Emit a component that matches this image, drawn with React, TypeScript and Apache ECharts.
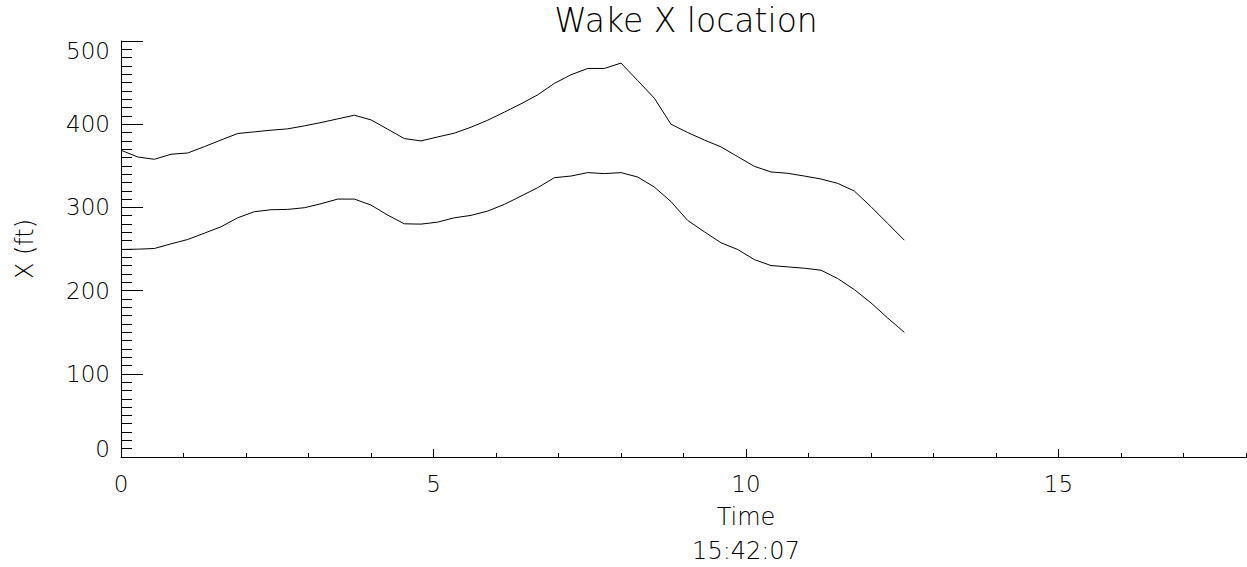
import React, { useEffect, useRef } from "react";
import * as echarts from "echarts";

const titleText = "Wake X location";
const xAxisName = "Time\n15:42:07";
const yAxisName = "X (ft)";

const times = [
  0, 0.267, 0.533, 0.8, 1.067, 1.333, 1.6, 1.867, 2.133, 2.4, 2.667, 2.933,
  3.2, 3.467, 3.733, 4.0, 4.267, 4.533, 4.8, 5.067, 5.333, 5.6, 5.867, 6.133,
  6.4, 6.667, 6.933, 7.2, 7.467, 7.733, 8.0, 8.267, 8.533, 8.8, 9.067, 9.333,
  9.6, 9.867, 10.133, 10.4, 10.667, 10.933, 11.2, 11.467, 11.733, 12.0, 12.267, 12.533,
];

const upperX = [
  368.7, 360.6, 357.8, 363.9, 365.4, 373, 381, 388.8, 390.8, 392.8, 394.4, 398,
  402, 406.4, 410.8, 405.2, 394, 382.7, 379.9, 384.7, 389.2, 396.4, 404.8, 414.5,
  424.5, 435.3, 449, 459.4, 467, 467, 473.5, 452.4, 431.3, 400, 390, 381,
  372.7, 361, 349.4, 342.6, 341, 337.7, 334.1, 328.9, 319.7, 300.8, 280.7, 260.6,
];

const lowerX = [
  249.4, 249.8, 250.6, 256.2, 261.4, 269, 276.7, 287.5, 294.8, 297.2, 297.6, 299.6,
  304.4, 310, 310, 302.8, 290.7, 280.3, 279.9, 282.3, 287.5, 290.4, 295.6, 303.6,
  313.6, 323.7, 335.7, 337.7, 341.8, 340.6, 341.8, 336.5, 324.5, 306.9, 284.3, 270.7,
  257.5, 249.4, 237.3, 230.1, 228.5, 226.9, 224.5, 214.5, 201.2, 185.2, 167.1, 149.8,
];

const yTicks = [0, 100, 200, 300, 400, 500];
const xTicks = [0, 5, 10, 15];

const FONT = "DejaVu Sans";

export default function App() {
  const ref = useRef<HTMLDivElement>(null);
  useEffect(() => {
    if (!ref.current) return;
    const chart = echarts.init(ref.current, undefined, { renderer: "svg" });
    const baseText = { fontFamily: FONT, fontWeight: 200 as any, color: "#000" };
    chart.setOption({
      animation: false,
      backgroundColor: "#fff",
      title: {
        text: titleText,
        left: 681,
        textAlign: "center",
        top: -1,
        textStyle: { ...baseText, fontSize: 33, fontWeight: 200 },
      },
      grid: {
        left: 121,
        top: 41,
        right: -124,
        bottom: 110,
        containLabel: false,
        outerBoundsMode: "none",
      } as any,
      xAxis: {
        type: "value",
        min: 0,
        max: 20,
        interval: 5,
        name: xAxisName,
        nameLocation: "middle",
        nameGap: 43,
        nameTextStyle: { ...baseText, fontSize: 24, lineHeight: 34 },
        axisLine: { show: true, lineStyle: { color: "#000", width: 1 } },
        axisTick: { show: true, inside: true, length: 8, lineStyle: { color: "#000" } },
        minorTick: { show: true, splitNumber: 5, length: 4, lineStyle: { color: "#000" } },
        splitLine: { show: false },
        axisLabel: {
          ...baseText,
          fontSize: 23,
          margin: 15,
          formatter: (v: number) => (xTicks.includes(v) ? String(v) : ""),
        },
      },
      yAxis: {
        type: "value",
        min: 0,
        max: 500,
        interval: 100,
        name: yAxisName,
        nameLocation: "middle",
        nameGap: 84,
        nameTextStyle: { ...baseText, fontSize: 24 },
        axisLine: { show: true, lineStyle: { color: "#000", width: 1 } },
        axisTick: { show: true, inside: true, length: 22, lineStyle: { color: "#000" } },
        minorTick: { show: true, splitNumber: 10, length: 11, lineStyle: { color: "#000" } },
        splitLine: { show: false },
        axisLabel: {
          ...baseText,
          fontSize: 23,
          margin: 11,
          formatter: (v: number) => {
            if (!yTicks.includes(v)) return "";
            if (v === yTicks[yTicks.length - 1]) return "{t|" + v + "}";
            if (v === yTicks[0]) return "{b|" + v + "}";
            return String(v);
          },
          rich: {
            t: { ...baseText, fontSize: 23, padding: [20, 0, 0, 0] },
            b: { ...baseText, fontSize: 23, padding: [0, 0, 16, 0] },
          },
        },
      },
      series: [
        {
          type: "line",
          data: times.map((t, i) => [t, upperX[i]]),
          showSymbol: false,
          lineStyle: { color: "#000", width: 1 },
          itemStyle: { color: "#000" },
        },
        {
          type: "line",
          data: times.map((t, i) => [t, lowerX[i]]),
          showSymbol: false,
          lineStyle: { color: "#000", width: 1 },
          itemStyle: { color: "#000" },
        },
      ],
    });
    return () => chart.dispose();
  }, []);
  return (
    <div
      ref={ref}
      style={{ position: "absolute", left: 0, top: 0, width: 1247, height: 567, background: "#fff" }}
    />
  );
}
